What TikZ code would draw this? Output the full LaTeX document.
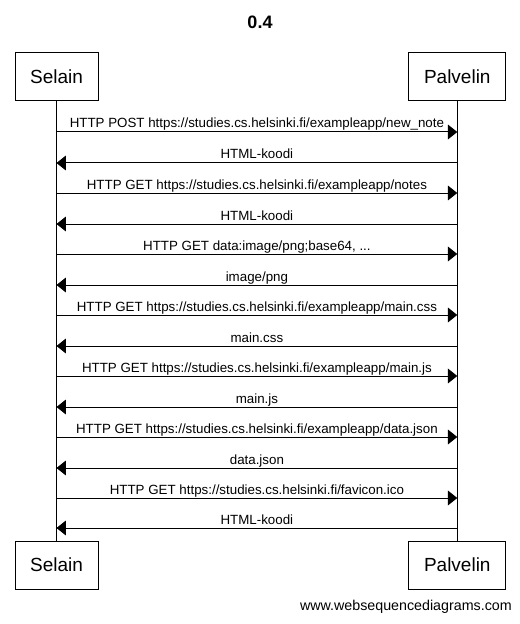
\documentclass[tikz,border=0pt]{standalone}
\usepackage{fontspec}
\setmainfont{Liberation Sans}
\usetikzlibrary{arrows.meta}
\tikzset{
  actor/.style={draw, line width=0.75pt, minimum height=36pt, inner sep=0pt, font=\fontsize{14.25}{16}\selectfont},
  msg/.style={line width=0.75pt, -{Triangle[length=7pt,width=11pt]}},
  lbl/.style={midway, anchor=base, yshift=3pt, inner sep=0pt, font=\fontsize{10}{11}\selectfont},
  life/.style={line width=0.75pt}
}
\begin{document}
\begin{tikzpicture}[x=0.75pt,y=-0.75pt]
\useasboundingbox (0,0) rectangle (520,624);
\node[font=\bfseries\fontsize{13.5}{15}\selectfont] (title) at (260,22) {0.4};
\node[actor, minimum width=62.25pt] (selT) at (56.5,77) {Selain};
\node[actor, minimum width=72.75pt] (palT) at (457.3,77) {Palvelin};
\node[actor, minimum width=62.25pt] (selB) at (56.5,565) {Selain};
\node[actor, minimum width=72.75pt] (palB) at (457.3,565) {Palvelin};
\draw[life] (selT.south) -- (selB.north);
\draw[life] (palT.south) -- (palB.north);
\foreach \i/\y in {1/132,2/163,3/193,4/224,5/254,6/285,7/315,8/346,9/376,10/407,11/437,12/468,13/498,14/528}{
  \coordinate (s\i) at (56.5,\y);
  \coordinate (p\i) at (457.3,\y);
}
\draw[msg] (s1) -- node[lbl]{HTTP POST https://studies.cs.helsinki.fi/exampleapp/new\_note} (p1);
\draw[msg] (p2) -- node[lbl]{HTML-koodi} (s2);
\draw[msg] (s3) -- node[lbl]{HTTP GET https://studies.cs.helsinki.fi/exampleapp/notes} (p3);
\draw[msg] (p4) -- node[lbl]{HTML-koodi} (s4);
\draw[msg] (s5) -- node[lbl]{HTTP GET data:image/png;base64, ...} (p5);
\draw[msg] (p6) -- node[lbl]{image/png} (s6);
\draw[msg] (s7) -- node[lbl]{HTTP GET https://studies.cs.helsinki.fi/exampleapp/main.css} (p7);
\draw[msg] (p8) -- node[lbl]{main.css} (s8);
\draw[msg] (s9) -- node[lbl]{HTTP GET https://studies.cs.helsinki.fi/exampleapp/main.js} (p9);
\draw[msg] (p10) -- node[lbl]{main.js} (s10);
\draw[msg] (s11) -- node[lbl]{HTTP GET https://studies.cs.helsinki.fi/exampleapp/data.json} (p11);
\draw[msg] (p12) -- node[lbl]{data.json} (s12);
\draw[msg] (s13) -- node[lbl]{HTTP GET https://studies.cs.helsinki.fi/favicon.ico} (p13);
\draw[msg] (p14) -- node[lbl]{HTML-koodi} (s14);
\node[anchor=east, inner sep=0pt, font=\fontsize{10.7}{12}\selectfont] (footer) at (512,607) {www.websequencediagrams.com};
\end{tikzpicture}
\end{document}
